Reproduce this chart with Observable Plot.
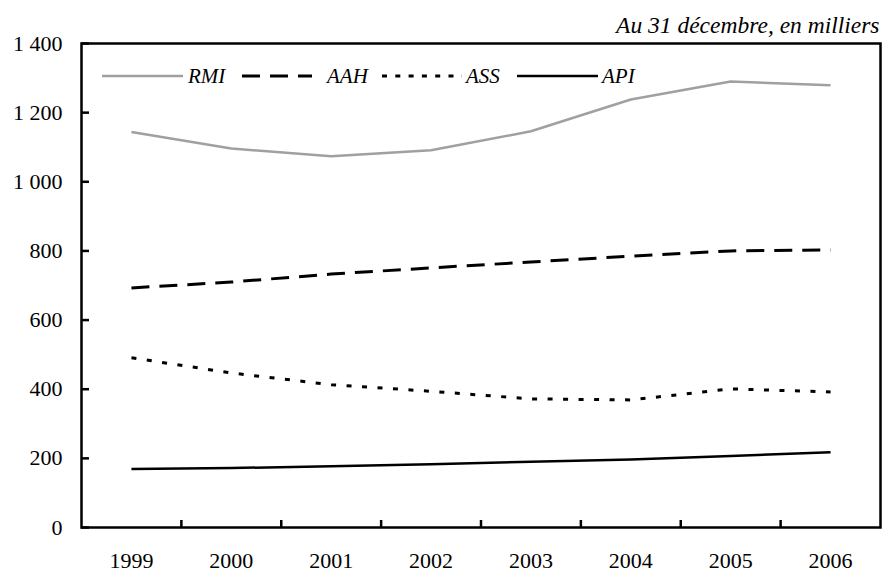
<!DOCTYPE html>
<html>
<head>
<meta charset="utf-8">
<script src="https://cdn.jsdelivr.net/npm/d3@7"></script>
<script src="https://cdn.jsdelivr.net/npm/@observablehq/plot@0.6"></script>
<style>
  html, body { margin: 0; padding: 0; background: white; }
  #wrap { position: relative; width: 884px; height: 573px; }
  #legend { position: absolute; left: 0; top: 0; pointer-events: none; }
  #legend text { font-family: "Liberation Serif", "Times New Roman", "DejaVu Serif", serif; font-size: 21px; font-style: italic; fill: black; }
</style>
</head>
<body>
<div id="wrap"></div>
<script>
// ---- data ----
const years = [1999, 2000, 2001, 2002, 2003, 2004, 2005, 2006];
const rmi = [1144, 1096, 1074, 1091, 1146, 1238, 1290, 1279];
const aah = [693, 710, 733, 751, 768, 785, 800, 803];
const ass = [491, 447, 413, 394, 372, 369, 401, 392];
const api = [169, 172, 177, 183, 190, 197, 207, 218];
const seriesNames = ["RMI", "AAH", "ASS", "API"];
const yTicks = [0, 200, 400, 600, 800, 1000, 1200, 1400];
const title = "Au 31 décembre, en milliers";

// ---- build ----
const values = {RMI: rmi, AAH: aah, ASS: ass, API: api};
const rowsOf = (name) => years.map((year, i) => ({year, value: values[name][i], series: name}));
const boundaries = years.slice(0, -1).map(y => y + 0.5);
const fr = d3.formatLocale({decimal: ",", thousands: "\u00a0", grouping: [3], currency: ["", " €"]});
const fmtY = fr.format(",d");

const styles = {
  RMI: {stroke: "#a0a0a0", strokeWidth: 2.5},
  AAH: {stroke: "black", strokeWidth: 3, strokeDasharray: "18,10"},
  ASS: {stroke: "black", strokeWidth: 3, strokeDasharray: "5,10.5"},
  API: {stroke: "black", strokeWidth: 2.5}
};

const chart = Plot.plot({
  width: 884,
  height: 573,
  marginLeft: 81,
  marginRight: 4,
  marginTop: 43,
  marginBottom: 46,
  style: {fontFamily: "'Liberation Serif', 'Times New Roman', 'DejaVu Serif', serif", fontSize: "22px", color: "black", background: "white", overflow: "visible"},
  x: {domain: [years[0] - 0.5, years[years.length - 1] + 0.5], label: null},
  y: {domain: [yTicks[0], yTicks[yTicks.length - 1]], label: null},
  marks: [
    ...seriesNames.map(name => Plot.lineY(rowsOf(name), {x: "year", y: "value", ...styles[name], strokeLinecap: "butt"})),
    Plot.axisY(yTicks, {tickSize: -8, strokeWidth: 2.5, tickFormat: () => "", label: null}),
    Plot.axisY(yTicks, {tickSize: 0, tickPadding: 19, tickFormat: fmtY, label: null}),
    Plot.axisX(boundaries, {tickSize: -7, strokeWidth: 2.5, tickFormat: () => "", label: null}),
    Plot.axisX(years, {tickSize: 0, tickPadding: 25, tickFormat: d => String(d), label: null}),
    Plot.frame({stroke: "black", strokeWidth: 2.5}),
    Plot.text([title], {frameAnchor: "top-right", text: d => d, lineAnchor: "bottom", dy: -11, dx: -1, fontSize: 23.5, fontStyle: "italic", textAnchor: "end"})
  ]
});
const wrap = document.getElementById("wrap");
wrap.appendChild(chart);

// ---- legend (inside plot, top) ----
const legendItems = [
  {name: "RMI", x1: 102, x2: 183, tx: 188, dash: null},
  {name: "AAH", x1: 242, x2: 312, tx: 327, dash: "18,10"},
  {name: "ASS", x1: 382, x2: 462, tx: 466, dash: "5,8.3"},
  {name: "API", x1: 517, x2: 598, tx: 602, dash: null}
];
const ns = "http://www.w3.org/2000/svg";
const lg = document.createElementNS(ns, "svg");
lg.setAttribute("id", "legend");
lg.setAttribute("width", 884);
lg.setAttribute("height", 573);
for (const it of legendItems) {
  const st = styles[it.name];
  const l = document.createElementNS(ns, "line");
  l.setAttribute("x1", it.x1); l.setAttribute("x2", it.x2);
  l.setAttribute("y1", 76); l.setAttribute("y2", 76);
  l.setAttribute("stroke", st.stroke);
  l.setAttribute("stroke-width", st.strokeWidth);
  if (it.dash) l.setAttribute("stroke-dasharray", it.dash);
  lg.appendChild(l);
  const t = document.createElementNS(ns, "text");
  t.setAttribute("x", it.tx); t.setAttribute("y", 83);
  t.textContent = it.name;
  lg.appendChild(t);
}
wrap.appendChild(lg);
</script>
</body>
</html>
